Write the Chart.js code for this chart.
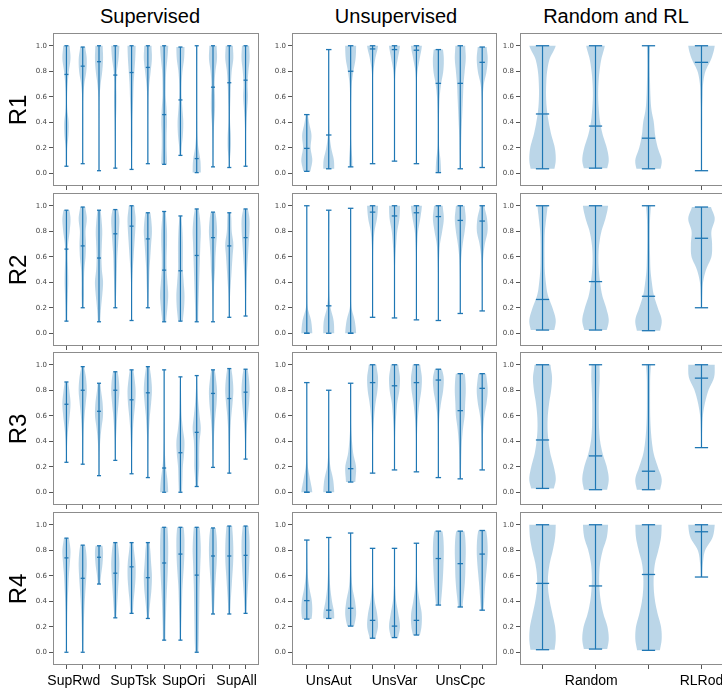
<!DOCTYPE html>
<html>
<head>
<meta charset="utf-8">
<script src="https://cdn.jsdelivr.net/npm/chart.js@4.4.1/dist/chart.umd.min.js"></script>
<style>
  body { margin: 0; width: 722px; height: 690px; overflow: hidden; background: #fff; position: relative; font-family: "Liberation Sans", Arial, sans-serif; }
  canvas { position: absolute; }
  .title { position: absolute; top: 6px; font-size: 20px; line-height: 1; white-space: nowrap; transform: translateX(-50%); color: #000; }
  .row { position: absolute; left: 18px; font-size: 24px; line-height: 1; white-space: nowrap; transform: translate(-50%, -50%) rotate(-90deg); color: #000; }
</style>
</head>
<body>
<script>
// ---- data (y in [0, 1]) ----
const rowNames = ['R1', 'R2', 'R3', 'R4'];
const yTicks = [0, 0.2, 0.4, 0.6, 0.8, 1.0];
// density profiles are relative widths at y = 0.0, 0.1, ... 1.0

const supCats = ['SupRwd', 'SupTsk', 'SupOri', 'SupAll'];
const supCatPos = [1.45, 5.1, 8.2, 11.45];
const supMin = [
  [.055, .075, .02, .04, .03, .075, .07, .14, .005, .05, .045, .055],
  [.095, .20, .09, .20, .10, .20, .09, .095, .09, .09, .125, .135],
  [.235, .22, .13, .25, .145, .115, 0, 0, .045, .195, .15, .26],
  [0, 0, .535, .27, .305, .265, .095, .095, 0, .30, .30, .305]
];
const supMed = [
  [.775, .84, .875, .77, .79, .83, .46, .575, .115, .675, .71, .73],
  [.66, .685, .59, .78, .84, .74, .495, .49, .61, .75, .685, .75],
  [.69, .80, .635, .80, .725, .78, .19, .31, .47, .775, .735, .785],
  [.74, .58, .745, .62, .67, .585, .70, .77, .605, .755, .755, .76]
];
const supMax = [
  [1, .99, 1, 1, 1, 1, 1, .99, 1, 1, 1, 1],
  [.965, .99, .965, .97, 1, .945, .955, .92, .975, .95, .945, .975],
  [.865, .985, .855, .945, .96, .985, .96, .905, .915, .96, .97, .965],
  [.895, .84, .835, .86, .86, .86, .98, .98, .98, .975, .99, .99]
];
const supDens = [
  [
    [.1, .15, .2, .5, .55, .2, .15, .3, .6, 1, .8],
    [.05, .05, .05, .08, .1, .1, .15, .4, .9, 1, .6],
    [.05, .05, .05, .05, .05, .08, .15, .4, .8, 1, .9],
    [.05, .05, .05, .1, .15, .25, .3, .25, .4, .8, 1],
    [.1, .1, .15, .2, .2, .3, .4, .5, .7, .9, 1],
    [.05, .05, .05, .05, .05, .1, .15, .35, .7, 1, .9],
    [.7, .7, .6, .6, .7, .6, .4, .4, .5, .8, 1],
    [.2, .2, .3, .6, .7, .5, .3, .3, .5, .9, 1],
    [1, .9, .4, .15, .1, .08, .08, .08, .08, .1, .12],
    [.05, .05, .1, .15, .3, .5, .5, .4, .6, 1, .9],
    [.1, .15, .4, .4, .2, .2, .3, .4, .6, 1, .9],
    [.05, .05, .05, .1, .2, .4, .6, .5, .7, 1, .9]
  ],
  [
    [.2, .2, .25, .35, .45, .4, .3, .4, .8, 1, .6],
    [.1, .1, .2, .3, .3, .4, .7, .8, .7, 1, .6],
    [.3, .3, .5, .8, 1, .7, .6, .7, .8, .6, .3],
    [.05, .05, .1, .2, .3, .4, .5, .7, .9, 1, .6],
    [.05, .05, .05, .1, .15, .3, .5, .7, .9, 1, .7],
    [.05, .05, .1, .2, .3, .4, .6, .8, 1, .8, .4],
    [.4, .5, .8, 1, .8, .6, .6, .7, .7, .5, .3],
    [.5, .6, .9, 1, .8, .6, .6, .6, .5, .3, .2],
    [.3, .35, .4, .5, .6, .7, .8, .9, 1, .8, .4],
    [.05, .05, .1, .2, .3, .5, .6, .8, 1, .8, .4],
    [.05, .05, .1, .2, .4, .6, .8, 1, .6, .5, .3],
    [.05, .05, .1, .15, .25, .4, .6, .8, 1, 1, .5]
  ],
  [
    [0, 0, .05, .1, .2, .45, .8, 1, .7, .3, .1],
    [0, 0, .05, .1, .15, .25, .45, .75, 1, .8, .3],
    [0, .05, .1, .15, .3, .6, 1, .9, .5, .2, .05],
    [0, 0, .05, .1, .15, .3, .5, .8, 1, .8, .3],
    [0, .05, .05, .1, .2, .35, .6, .9, 1, .7, .3],
    [0, .05, .05, .1, .15, .3, .5, .8, 1, .8, .4],
    [1, .8, .4, .2, .1, .08, .05, .05, .05, .05, .05],
    [.4, .5, .6, .9, 1, .6, .3, .2, .15, .1, .05],
    [.3, .4, .6, .6, .7, 1, .7, .4, .2, .1, .05],
    [0, .05, .05, .1, .2, .35, .6, .9, 1, .7, .3],
    [0, .05, .05, .1, .2, .3, .5, .8, 1, .8, .4],
    [0, 0, .05, .1, .15, .3, .55, .85, 1, .8, .4]
  ],
  [
    [.1, .1, .15, .2, .3, .45, .6, .85, 1, .6, .2],
    [.15, .2, .25, .35, .5, .7, .9, 1, .8, .3, .1],
    [0, 0, 0, 0, 0, .2, .5, .9, 1, .5, .1],
    [0, 0, .1, .3, .5, .7, .9, 1, .8, .4, .1],
    [0, 0, 0, .3, .5, .8, 1, .95, .6, .3, .1],
    [0, 0, .05, .3, .6, .9, 1, .8, .6, .3, .1],
    [.2, .3, .35, .45, .55, .7, .85, .95, 1, .95, .8],
    [.1, .15, .2, .3, .4, .5, .7, .9, 1, 1, .8],
    [.4, .5, .55, .6, .65, .7, .8, .9, 1, .9, .7],
    [0, 0, 0, .2, .35, .5, .7, .9, 1, .9, .6],
    [0, 0, 0, .2, .35, .55, .75, .95, 1, .9, .7],
    [0, 0, 0, .2, .35, .55, .75, .9, 1, .95, .7]
  ]
];

const unsCats = ['UnsAut', 'UnsVar', 'UnsCpc'];
const unsCatPos = [2, 5, 8];
const unsMin = [
  [.015, .035, .05, .075, .095, .075, .005, .035, .045],
  [0, 0, 0, .125, .12, .105, .10, .155, .175],
  [0, 0, .08, .15, .175, .16, .115, .105, .175],
  [.26, .265, .205, .11, .115, .135, .37, .355, .33]
];
const unsMed = [
  [.195, .30, .80, .975, .97, .965, .705, .705, .87],
  [0, .215, 0, .95, .92, .945, .915, .885, .88],
  [0, 0, .185, .86, .835, .86, .88, .64, .815],
  [.405, .33, .345, .25, .205, .25, .735, .695, .77]
];
const unsMax = [
  [.46, .97, 1, 1, 1, 1, .97, 1, .99],
  [1, .965, .98, 1, 1, 1, 1, 1, 1],
  [.86, .80, .855, 1, 1, 1, .965, .93, .93],
  [.88, .90, .935, .815, .815, .855, .95, .95, .955]
];
const unsDens = [
  [
    [.6, 1, .7, .85, .4, .1, 0, 0, 0, 0, 0],
    [1, .95, .45, .15, .07, .05, .05, .05, .05, .05, .05],
    [.3, .3, .15, .05, .05, .05, .1, .2, .5, .9, 1],
    [.02, .02, .02, .02, .02, .02, .03, .05, .15, .5, 1],
    [.02, .02, .02, .02, .02, .02, .03, .06, .2, .6, 1],
    [.02, .02, .02, .02, .02, .02, .03, .06, .2, .6, 1],
    [.5, .4, .15, .1, .1, .15, .25, .5, .9, 1, .8],
    [.1, .1, .15, .2, .3, .4, .5, .6, .8, 1, .9],
    [.02, .02, .02, .03, .03, .05, .1, .3, .8, 1, .8]
  ],
  [
    [.9, .7, .15, .05, .03, .03, .03, .03, .03, .03, .03],
    [.9, .8, .3, .1, .05, .05, .05, .05, .08, .1, .08],
    [.95, .7, .15, .05, .03, .03, .03, .03, .03, .03, .03],
    [0, .03, .03, .03, .03, .05, .08, .15, .35, .8, 1],
    [0, .03, .03, .05, .05, .08, .15, .3, .5, .9, 1],
    [0, .03, .03, .03, .05, .05, .08, .15, .3, .7, 1],
    [.03, .03, .03, .05, .05, .08, .15, .3, .7, 1, .8],
    [0, .03, .03, .05, .05, .1, .2, .45, .8, 1, .8],
    [0, .03, .03, .05, .08, .1, .2, .5, 1, .9, .4]
  ],
  [
    [1, .6, .2, .08, .05, .03, .03, .03, .03, .03, .03],
    [1, .8, .3, .1, .05, .03, .03, .03, .03, .03, .03],
    [.7, .9, 1, .5, .25, .1, .05, .05, .05, .03, .03],
    [0, .03, .03, .05, .08, .15, .3, .55, .9, 1, .7],
    [0, .03, .03, .05, .08, .15, .3, .5, .9, 1, .7],
    [0, .03, .03, .05, .08, .15, .3, .55, .9, 1, .7],
    [.03, .03, .03, .05, .08, .1, .2, .5, .9, 1, .5],
    [.1, .1, .15, .2, .3, .5, .8, .9, 1, .9, .6],
    [0, .03, .05, .08, .12, .2, .4, .8, 1, .8, .5]
  ],
  [
    [0, 0, .6, 1, .95, .5, .2, .1, .05, .03, .03],
    [0, 0, .8, 1, .6, .3, .15, .08, .05, .03, .03],
    [0, 0, .6, 1, .8, .35, .15, .08, .05, .03, .03],
    [.3, .5, 1, .85, .4, .15, .08, .05, .03, .03, .03],
    [.4, .6, 1, .7, .3, .12, .06, .04, .03, .03, .03],
    [.3, .5, .95, 1, .6, .25, .1, .05, .03, .02, .02],
    [0, 0, .2, .3, .5, .7, .85, .95, 1, .9, .6],
    [0, 0, .2, .3, .5, .75, .9, .95, 1, .9, .6],
    [0, 0, .15, .2, .35, .5, .7, .9, 1, .9, .6]
  ]
];

const rlCats = ['Random', 'RLRod'];
const rlCatPos = [1.92, 4];
const rlMin = [
  [.035, .04, .035, .02],
  [.025, .025, .02, .20],
  [.03, .02, .02, .35],
  [.02, .025, .015, .59]
];
const rlMed = [
  [.465, .37, .275, .87],
  [.265, .405, .29, .745],
  [.41, .285, .165, .895],
  [.54, .52, .61, .945]
];
const rlMax = [
  [1, 1, 1, 1],
  [1, 1, 1, .99],
  [1, 1, 1, 1],
  [1, 1, 1, 1]
];
const rlDens = [
  [
    [.85, 1, .93, .67, .47, .33, .27, .28, .35, .55, 1],
    [.8, 1, .85, .55, .35, .25, .2, .22, .3, .45, .7],
    [.85, 1, .7, .5, .4, .22, .15, .12, .1, .1, .12],
    [.03, .03, .03, .04, .05, .05, .08, .12, .3, .75, 1]
  ],
  [
    [.85, 1, .75, .4, .25, .17, .15, .15, .18, .28, .38],
    [.8, 1, .8, .5, .35, .25, .22, .28, .45, .75, .95],
    [.85, 1, .7, .4, .25, .15, .12, .1, .1, .12, .18],
    [0, .03, .04, .06, .12, .35, .75, .8, .75, 1, .7]
  ],
  [
    [.8, 1, .85, .6, .45, .38, .4, .5, .65, .72, .6],
    [.85, 1, .85, .55, .35, .27, .25, .25, .28, .32, .3],
    [.85, 1, .7, .4, .25, .17, .13, .12, .12, .13, .18],
    [0, 0, 0, .02, .03, .05, .1, .25, .5, .9, .95]
  ],
  [
    [.9, 1, .95, .75, .55, .42, .42, .55, .78, .95, 1],
    [.85, 1, .9, .6, .4, .3, .28, .35, .55, .85, .95],
    [.85, 1, .95, .7, .5, .4, .4, .5, .75, .95, 1],
    [0, 0, 0, 0, 0, .03, .05, .1, .25, .75, .9]
  ]
];

// ---- layout ----
const C0 = '#1f77b4';
const rowTops = [33, 193, 352, 512];
const boxH = 153;
const columns = [
  { title: 'Supervised', titleX: 150, left: 53, width: 206, xMin: 0.175, xMax: 12.825,
    mins: supMin, meds: supMed, maxs: supMax, dens: supDens, cats: supCats, catPos: supCatPos },
  { title: 'Unsupervised', titleX: 396, left: 292, width: 205, xMin: 0.325, xMax: 9.675,
    mins: unsMin, meds: unsMed, maxs: unsMax, dens: unsDens, cats: unsCats, catPos: unsCatPos },
  { title: 'Random and RL', titleX: 616, left: 520, width: 204, xMin: 0.575, xMax: 4.425,
    mins: rlMin, meds: rlMed, maxs: rlMax, dens: rlDens, cats: rlCats, catPos: rlCatPos }
];

function densAt(d, v) {
  const t = Math.min(Math.max(v * 10, 0), 10);
  const i = Math.min(Math.floor(t), 9);
  const f = t - i;
  const p0 = d[Math.max(i - 1, 0)], p1 = d[i], p2 = d[i + 1], p3 = d[Math.min(i + 2, 10)];
  const val = 0.5 * (2 * p1 + (-p0 + p2) * f + (2 * p0 - 5 * p1 + 4 * p2 - p3) * f * f +
    (-p0 + 3 * p1 - 3 * p2 + p3) * f * f * f);
  return Math.max(val, 0.015);
}

const violinPlugin = {
  id: 'violins',
  beforeDatasetsDraw(chart, args, o) {
    const { ctx, scales: { x, y } } = chart;
    ctx.save();
    ctx.fillStyle = 'rgba(31,119,180,0.3)';
    o.mins.forEach((lo, i) => {
      const p = i + 1, hi = o.maxs[i], d = o.dens[i];
      const half = x.getPixelForValue(p + 0.25) - x.getPixelForValue(p);
      const cx = x.getPixelForValue(p);
      const steps = 60, ys = [], ws = [];
      for (let k = 0; k <= steps; k++) {
        const v = lo + (hi - lo) * k / steps;
        ys.push(y.getPixelForValue(v));
        ws.push(densAt(d, v));
      }
      const peak = Math.max(...ws);
      ctx.beginPath();
      for (let k = 0; k <= steps; k++) {
        const px = cx + ws[k] / peak * half;
        k ? ctx.lineTo(px, ys[k]) : ctx.moveTo(px, ys[k]);
      }
      for (let k = steps; k >= 0; k--) ctx.lineTo(cx - ws[k] / peak * half, ys[k]);
      ctx.closePath();
      ctx.fill();
    });
    ctx.restore();
  }
};

const framePlugin = {
  id: 'frame',
  afterDraw(chart) {
    const { ctx, chartArea: a } = chart;
    ctx.save();
    ctx.strokeStyle = '#8c8c8c';
    ctx.lineWidth = 1;
    ctx.strokeRect(a.left + 0.5, a.top + 0.5, a.right - a.left - 1, a.bottom - a.top - 1);
    ctx.restore();
  }
};

const groupLabelPlugin = {
  id: 'groupLabels',
  afterDraw(chart, args, o) {
    if (!o.cats) return;
    const { ctx, chartArea: a, scales: { x } } = chart;
    ctx.save();
    ctx.font = '14px "Liberation Sans", Arial, sans-serif';
    ctx.fillStyle = '#000';
    ctx.textAlign = 'center';
    ctx.textBaseline = 'middle';
    o.cats.forEach((c, i) => ctx.fillText(c, x.getPixelForValue(o.catPos[i]), a.bottom + 16));
    ctx.restore();
  }
};

const capRadius = (ctx) => {
  const s = ctx.chart.scales.x;
  return Math.abs(s.getPixelForValue(0.125) - s.getPixelForValue(0));
};

function capSet(values) {
  return {
    type: 'scatter',
    data: values.map((v, i) => ({ x: i + 1, y: v })),
    pointStyle: 'line',
    pointRadius: capRadius,
    pointHoverRadius: capRadius,
    pointBorderColor: C0,
    pointBorderWidth: 1.3,
    pointBackgroundColor: C0
  };
}

function makePanel(col, r) {
  const last = r === rowTops.length - 1;
  const W = col.width + 36;
  const H = boxH + 6 + (last ? 34 : 10);
  const canvas = document.createElement('canvas');
  canvas.width = W;
  canvas.height = H;
  canvas.style.left = (col.left - 30) + 'px';
  canvas.style.top = (rowTops[r] - 6) + 'px';
  document.body.appendChild(canvas);

  const mins = col.mins[r], maxs = col.maxs[r], meds = col.meds[r];
  const positions = mins.map((_, i) => i + 1);

  new Chart(canvas, {
    type: 'bar',
    data: {
      datasets: [
        {
          type: 'bar',
          data: positions.map((p, i) => ({ x: p, y: [mins[i], maxs[i]] })),
          backgroundColor: C0,
          borderWidth: 0,
          inflateAmount: 0,
          barThickness: 1.2
        },
        capSet(mins),
        capSet(maxs),
        capSet(meds)
      ]
    },
    options: {
      responsive: false,
      animation: false,
      events: [],
      layout: { padding: { top: 6, right: 6, left: 0, bottom: 0 } },
      plugins: {
        legend: { display: false },
        tooltip: { enabled: false },
        violins: { mins, maxs, dens: col.dens[r] },
        groupLabels: last ? { cats: col.cats, catPos: col.catPos } : {}
      },
      scales: {
        x: {
          type: 'linear',
          min: col.xMin,
          max: col.xMax,
          offset: false,
          afterBuildTicks: (s) => { s.ticks = positions.map(v => ({ value: v })); },
          afterFit: (s) => { s.height = H - 6 - boxH; s.paddingLeft = 0; s.paddingRight = 0; },
          ticks: { display: false },
          grid: { offset: false, drawOnChartArea: false, tickLength: 4, color: '#555', lineWidth: 1 },
          border: { display: false }
        },
        y: {
          type: 'linear',
          min: -0.1,
          max: 1.1,
          afterBuildTicks: (s) => { s.ticks = yTicks.map(v => ({ value: v })); },
          afterFit: (s) => { s.width = 30; s.paddingTop = 0; s.paddingBottom = 0; },
          ticks: {
            padding: 2,
            color: '#444',
            font: { family: 'DejaVu Sans', size: 7 },
            callback: (v) => Number(v).toFixed(1)
          },
          grid: { drawOnChartArea: false, tickLength: 4, color: '#555', lineWidth: 1 },
          border: { display: false }
        }
      }
    },
    plugins: [violinPlugin, framePlugin, groupLabelPlugin]
  });
}

columns.forEach((col) => {
  const t = document.createElement('div');
  t.className = 'title';
  t.textContent = col.title;
  t.style.left = col.titleX + 'px';
  document.body.appendChild(t);
  rowTops.forEach((_, r) => makePanel(col, r));
});

rowNames.forEach((name, r) => {
  const d = document.createElement('div');
  d.className = 'row';
  d.textContent = name;
  d.style.top = (rowTops[r] + boxH / 2) + 'px';
  document.body.appendChild(d);
});
</script>
</body>
</html>
